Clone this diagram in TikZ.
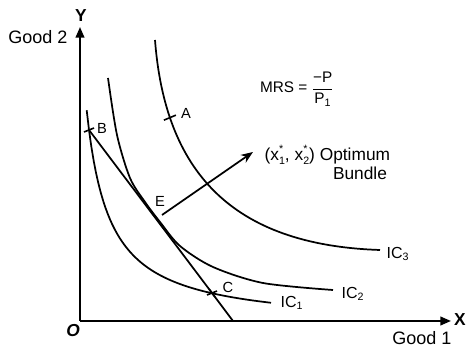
\documentclass[tikz,border=0pt]{standalone}
\usepackage{fontspec}
\setmainfont{Liberation Sans}
\usetikzlibrary{arrows.meta,positioning}

\newcommand{\optsub}[1]{\raisebox{-2.5pt}{\fontsize{8}{7}\selectfont\shortstack[l]{*\\#1}}}

\begin{document}
\begin{tikzpicture}[
    x=0.75pt, y=-0.75pt,
    every node/.style={font=\fontsize{12}{14}\selectfont, inner sep=1pt},
    axis/.style={line width=1.5pt, -{Triangle[length=8pt,width=6.5pt]}},
    curve/.style={line width=1.3pt},
    markcross/.style={line width=1.2pt},
    axislabel/.style={font=\fontsize{13}{15}\selectfont\bfseries},
    goodlabel/.style={font=\fontsize{13.5}{15}\selectfont},
    pointlabel/.style={font=\fontsize{11}{13}\selectfont},
    iclabel/.style={font=\fontsize{12}{14}\selectfont, anchor=west}
]
\useasboundingbox (0,0) rectangle (469,348);

% axes
\coordinate (O) at (80,321);
\coordinate (yend) at (80,27);
\coordinate (xend) at (451,321);
\draw[axis] (O) -- (yend);
\draw[axis] (O) -- (xend);
\node[axislabel] (ylab) at (81,16) {Y};
\node[axislabel] (xlab) at (460,320) {X};
\node[axislabel, font=\fontsize{13}{15}\selectfont\bfseries\itshape] (olab) at (73,331) {O};
\node[goodlabel] (good2) at (38,37) {Good 2};
\node[goodlabel] (good1) at (422,338) {Good 1};

% indifference curves
\draw[curve] plot[domain=86.7:271, samples=80] (\x, {326.7-4957/(\x-63.8)});
\draw[curve] plot[smooth] coordinates
    {(108,78) (117,135) (130,178) (145,202) (160,222) (180,246) (213,267) (263,283) (333,290)};
\draw[curve] (155,40) .. controls (165,170) and (230,245) .. (380,250)
    coordinate[pos=0.22] (A);

\node[iclabel] (ic1) at (279,303) {IC\textsubscript{1}};
\node[iclabel] (ic2) at (340,294) {IC\textsubscript{2}};
\node[iclabel] (ic3) at (385,254) {IC\textsubscript{3}};

% budget line
\coordinate (B) at (89,130);
\coordinate (C) at (212,293);
\coordinate (budgetend) at (233,321);
\draw[curve] (B) -- (C) -- (budgetend);

% marked points
\draw[markcross] ([shift={(-6,2.5)}]A) -- ([shift={(6,-2.5)}]A);
\draw[markcross] ([shift={(-5,2)}]B) -- ([shift={(5,-2)}]B);
\draw[markcross] ([shift={(-5,2)}]C) -- ([shift={(5,-2)}]C);
\draw[markcross] ([shift={(-3,-4)}]C) -- ([shift={(3,4)}]C);
\node[pointlabel] (alab) at (186,113) {A};
\node[pointlabel] (blab) at (102,128) {B};
\node[pointlabel] (clab) at (228,287) {C};
\node[pointlabel] (elab) at (160,201) {E};

% optimum arrow
\coordinate (estart) at (162,215);
\coordinate (etip) at (253,152);
\draw[curve, -{Stealth[length=9pt,width=7pt]}] (estart) -- (etip);
\node[font=\fontsize{13}{15}\selectfont, anchor=west] (optimum) at (263,155)
    {(x\optsub{1}, x\optsub{2}) Optimum};
\node[font=\fontsize{13}{15}\selectfont] (bundle) at (360,173) {Bundle};

% slope condition
\node[font=\fontsize{11.5}{14}\selectfont] (mrs) at (297,89)
    {MRS = ${\displaystyle\frac{\mbox{−P}}{\mbox{P\textsubscript{1}}}}$};
\end{tikzpicture}
\end{document}
